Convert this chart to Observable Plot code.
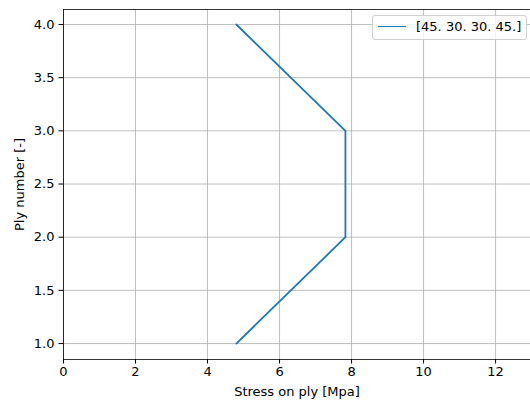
<!DOCTYPE html>
<html>
<head>
<meta charset="utf-8">
<script src="https://cdn.jsdelivr.net/npm/d3@7"></script>
<script src="https://cdn.jsdelivr.net/npm/@observablehq/plot@0.6"></script>
<style>
  html, body { margin: 0; padding: 0; background: #fff; }
  #wrap { position: relative; width: 530px; height: 401px; font-family: "DejaVu Sans", sans-serif; }
  #legend {
    position: absolute; left: 372px; top: 15px; width: 155px; height: 25px;
    border: 1px solid #d0d0d0; border-radius: 3px; background: rgba(255,255,255,0.8);
    box-sizing: border-box; font-size: 13px; color: #000;
  }
  #legend .swatch { position: absolute; left: 5px; top: 10px; width: 28px; height: 0; border-top: 1.8px solid #1f77b4; }
  #legend .lab { position: absolute; left: 43px; top: 3px; white-space: nowrap; line-height: 16px; }
</style>
</head>
<body>
<div id="wrap"></div>
<script>
const plies = [1, 2, 3, 4];
const stress = [4.8, 7.83, 7.83, 4.8];
const seriesLabel = "[45. 30. 30. 45.]";
const xTicks = [0, 2, 4, 6, 8, 10, 12];
const yTicks = [1.0, 1.5, 2.0, 2.5, 3.0, 3.5, 4.0];
const xDomain = [0, 12.97];
const yDomain = [0.85, 4.141];
const xLabel = "Stress on ply [Mpa]";
const yLabel = "Ply number [-]";

const data = plies.map((p, i) => ({ply: p, stress: stress[i]}));

const chart = Plot.plot({
  width: 530,
  height: 401,
  marginLeft: 63,
  marginRight: 0,
  marginTop: 9,
  marginBottom: 42,
  style: { fontFamily: "DejaVu Sans, sans-serif", fontSize: "13px", color: "#000", background: "#fff" },
  x: { domain: xDomain },
  y: { domain: yDomain },
  marks: [
    Plot.gridX(xTicks, { stroke: "#b0b0b0", strokeOpacity: 1, strokeWidth: 0.8 }),
    Plot.gridY(yTicks, { stroke: "#b0b0b0", strokeOpacity: 1, strokeWidth: 0.8 }),
    Plot.line(data, { x: "stress", y: "ply", stroke: "#1f77b4", strokeWidth: 1.8 }),
    Plot.ruleX([xDomain[0]], { stroke: "#000", strokeWidth: 0.8 }),
    Plot.ruleY([yDomain[0]], { stroke: "#000", strokeWidth: 0.8 }),
    Plot.ruleY([yDomain[1]], { stroke: "#000", strokeWidth: 0.8 }),
    Plot.axisX(xTicks, { tickSize: 4.5, tickPadding: 3, tickFormat: d => String(d), label: null, fontSize: "13px" }),
    Plot.axisY(yTicks, { tickSize: 4.5, tickPadding: 4.5, tickFormat: d3.format(".1f"), label: null, fontSize: "13px" }),
    Plot.text([xLabel], { frameAnchor: "bottom", dy: 32, fontSize: "13px", textAnchor: "middle", lineAnchor: "middle" }),
    Plot.text([yLabel], { frameAnchor: "left", dx: -44, rotate: -90, fontSize: "13px", textAnchor: "middle", lineAnchor: "middle" })
  ]
});
const wrap = document.getElementById("wrap");
wrap.appendChild(chart);
const lg = document.createElement("div");
lg.id = "legend";
lg.innerHTML = '<div class="swatch"></div><div class="lab"></div>';
lg.querySelector(".lab").textContent = seriesLabel;
wrap.appendChild(lg);
</script>
</body>
</html>
